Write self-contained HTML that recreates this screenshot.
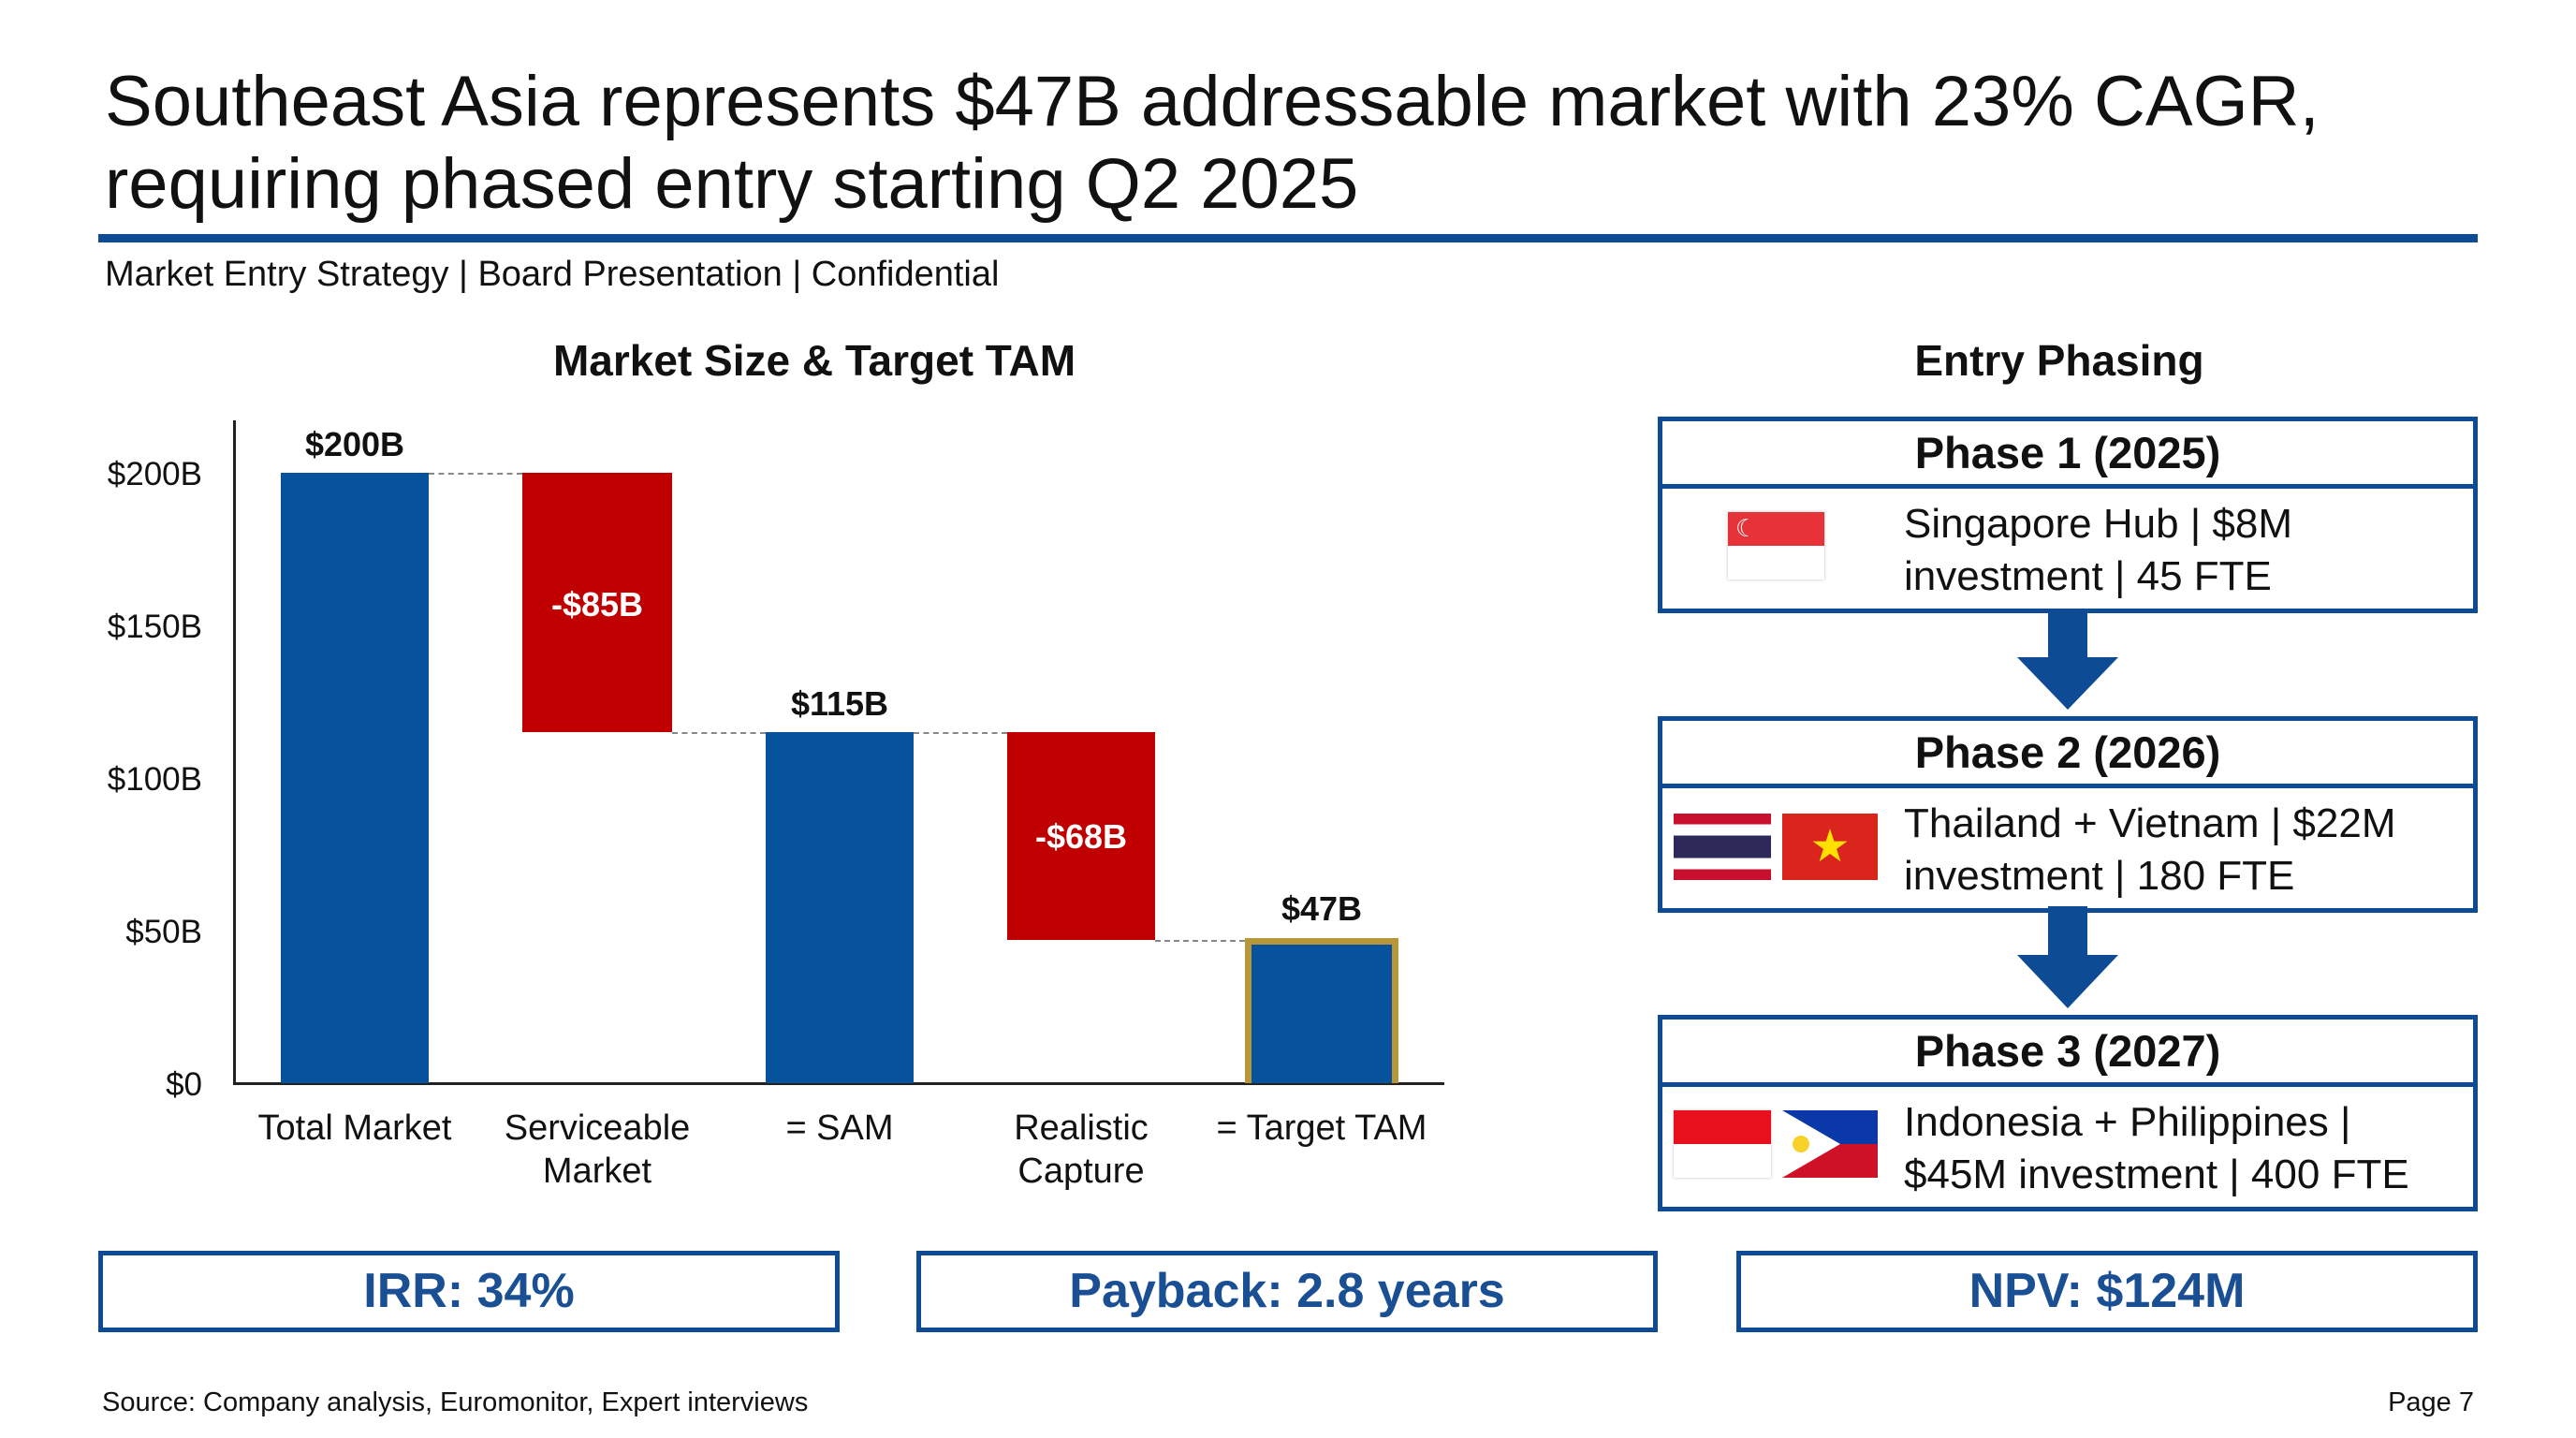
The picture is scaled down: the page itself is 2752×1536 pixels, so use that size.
<!DOCTYPE html>
<html><head><meta charset="utf-8"><style>
*{margin:0;padding:0;box-sizing:border-box}
body{width:2752px;height:1536px;background:#fff;position:relative;overflow:hidden;font-family:"Liberation Sans",Arial,sans-serif;color:#111}
.a{position:absolute;white-space:nowrap}
.t{font-size:76px;left:112px;line-height:88px}
.yl{font-size:35px;right:2536px;width:200px;text-align:right}
.bar{position:absolute}
.blue{background:#07529d}
.red{background:#c00000}
.val{font-size:36px;font-weight:bold;text-align:center;width:300px}
.xl{font-size:38px;text-align:center;width:300px;line-height:46px}
.dash{position:absolute;border-top:2px dashed #888;height:0}
.box{position:absolute;left:1771px;width:876px;border:5px solid #0d4c94}
.hd{height:72px;border-bottom:5px solid #0d4c94;font-size:47px;font-weight:bold;text-align:center;line-height:68px}
.bd{position:relative;height:128px}
.bd .tx{position:absolute;left:258px;top:10px;font-size:44px;line-height:56px;white-space:nowrap}
.kpi{position:absolute;top:1336px;height:87px;width:792px;border:5px solid #0d4c94;color:#1a4f94;font-weight:bold;font-size:52px;text-align:center;line-height:77px}
</style></head><body>
<div class="a t" style="top:65px">Southeast Asia represents $47B addressable market with 23% CAGR,</div>
<div class="a t" style="top:153px">requiring phased entry starting Q2 2025</div>
<div class="a" style="left:105px;top:250px;width:2542px;height:9px;background:#0d4c94"></div>
<div class="a" style="left:112px;top:272px;font-size:38px">Market Entry Strategy | Board Presentation | Confidential</div>

<div class="a" style="left:570px;top:358px;width:600px;text-align:center;font-size:46px;font-weight:bold">Market Size &amp; Target TAM</div>
<div class="a" style="left:1900px;top:358px;width:600px;text-align:center;font-size:46px;font-weight:bold">Entry Phasing</div>

<div class="a" style="left:249px;top:449px;width:3px;height:710px;background:#222"></div>
<div class="a" style="left:249px;top:1156px;width:1294px;height:3px;background:#222"></div>
<div class="a yl" style="top:487px">$200B</div>
<div class="a yl" style="top:650px">$150B</div>
<div class="a yl" style="top:813px">$100B</div>
<div class="a yl" style="top:976px">$50B</div>
<div class="a yl" style="top:1139px">$0</div>

<div class="bar blue" style="left:300px;top:505px;width:158px;height:652px"></div>
<div class="bar red" style="left:558px;top:505px;width:160px;height:277px"></div>
<div class="bar blue" style="left:818px;top:782px;width:158px;height:375px"></div>
<div class="bar red" style="left:1076px;top:782px;width:158px;height:222px"></div>
<div class="bar blue" style="left:1330px;top:1002px;width:164px;height:155px;border:7px solid #b8963a;border-bottom:none"></div>
<div class="dash" style="left:458px;top:505px;width:100px"></div>
<div class="dash" style="left:718px;top:782px;width:100px"></div>
<div class="dash" style="left:976px;top:782px;width:100px"></div>
<div class="dash" style="left:1234px;top:1004px;width:96px"></div>

<div class="a val" style="left:229px;top:454px">$200B</div>
<div class="a val" style="left:747px;top:731px">$115B</div>
<div class="a val" style="left:1262px;top:950px">$47B</div>
<div class="a val" style="left:488px;top:625px;color:#fff">-$85B</div>
<div class="a val" style="left:1005px;top:873px;color:#fff">-$68B</div>

<div class="a xl" style="left:229px;top:1182px">Total Market</div>
<div class="a xl" style="left:488px;top:1182px">Serviceable<br>Market</div>
<div class="a xl" style="left:747px;top:1182px">= SAM</div>
<div class="a xl" style="left:1005px;top:1182px">Realistic<br>Capture</div>
<div class="a xl" style="left:1262px;top:1182px">= Target TAM</div>

<div class="box" style="top:445px"><div class="hd">Phase 1 (2025)</div><div class="bd">
<div class="a" style="left:70px;top:25px;width:103px;height:72px;box-shadow:0 0 3px #bbb"><div style="height:36px;background:#e8323a;position:relative"><span style="position:absolute;left:8px;top:2px;color:#fff;font-size:26px;line-height:30px">☾</span></div><div style="height:36px;background:#fff"></div></div>
<div class="tx">Singapore Hub | $8M<br>investment | 45 FTE</div></div></div>

<div class="box" style="top:765px"><div class="hd">Phase 2 (2026)</div><div class="bd">
<div class="a" style="left:12px;top:27px;width:104px;height:71px;background:linear-gradient(#c8102e 0,#c8102e 16%,#fff 16%,#fff 33%,#2d2a5a 33%,#2d2a5a 67%,#fff 67%,#fff 84%,#c8102e 84%)"></div>
<div class="a" style="left:128px;top:27px;width:102px;height:71px;background:#da251d;color:#ffe000;font-size:48px;text-align:center;line-height:71px">★</div>
<div class="tx">Thailand + Vietnam | $22M<br>investment | 180 FTE</div></div></div>

<div class="box" style="top:1084px"><div class="hd">Phase 3 (2027)</div><div class="bd">
<div class="a" style="left:12px;top:25px;width:104px;height:72px;box-shadow:0 0 3px #bbb;background:linear-gradient(#e8101c 50%,#fff 50%)"></div>
<div class="a" style="left:128px;top:25px;width:102px;height:72px;background:linear-gradient(#0a38a8 50%,#ce1126 50%)"><svg width="102" height="72" style="position:absolute;left:0;top:0"><polygon points="0,0 62,36 0,72" fill="#fff"/><circle cx="20" cy="36" r="9" fill="#f8d12a"/></svg></div>
<div class="tx">Indonesia + Philippines |<br>$45M investment | 400 FTE</div></div></div>

<svg class="a" style="left:2150px;top:650px" width="120" height="440">
<rect x="38" y="0" width="42" height="55" fill="#0d4c94"/><polygon points="5,52 113,52 59,108" fill="#0d4c94"/>
<rect x="38" y="318" width="42" height="55" fill="#0d4c94"/><polygon points="5,370 113,370 59,427" fill="#0d4c94"/>
</svg>

<div class="kpi" style="left:105px">IRR: 34%</div>
<div class="kpi" style="left:979px">Payback: 2.8 years</div>
<div class="kpi" style="left:1855px">NPV: $124M</div>

<div class="a" style="left:109px;top:1482px;font-size:29px">Source: Company analysis, Euromonitor, Expert interviews</div>
<div class="a" style="right:109px;top:1482px;font-size:29px">Page 7</div>
</body></html>
